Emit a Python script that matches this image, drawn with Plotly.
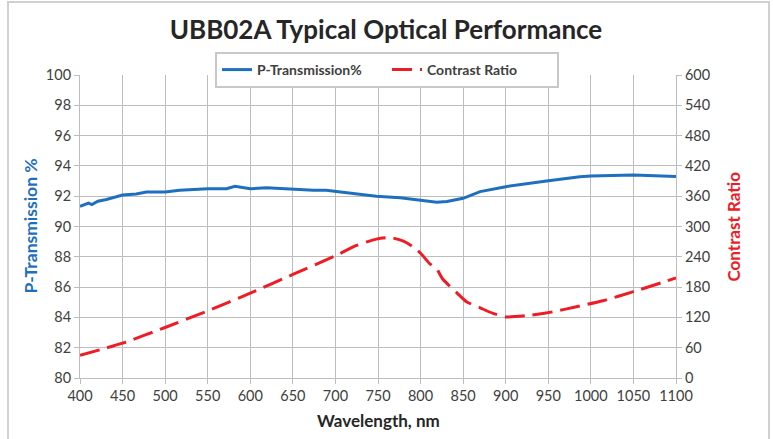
import plotly.graph_objects as go

# Wavelength grid for transmission (nm) and P-Transmission (%)
wl_t = [400, 405, 410, 414, 421, 431, 450, 466, 478, 500, 517, 550, 572, 582, 600,
        619, 650, 674, 689, 700, 725, 748, 776, 796, 819, 831, 850, 870, 900, 948,
        987, 1000, 1050, 1100]
p_trans = [91.33, 91.44, 91.55, 91.45, 91.67, 91.78, 92.08, 92.15, 92.27, 92.27, 92.4,
           92.5, 92.5, 92.66, 92.49, 92.55, 92.45, 92.4, 92.4, 92.33, 92.18, 92.0,
           91.9, 91.78, 91.6, 91.65, 91.86, 92.3, 92.63, 93.0, 93.29, 93.33, 93.4, 93.3]

# Wavelength grid for contrast ratio (nm) and contrast ratio values
wl_c = [400, 450, 500, 550, 600, 650, 700, 724, 748, 765, 780, 790, 800, 811, 819,
        826, 843, 854, 870, 885, 901, 928, 955, 983, 1014, 1050, 1100]
contrast = [45, 69, 100, 133, 168, 205, 242, 262, 275, 278, 271, 261, 247, 226, 216,
            196, 168, 151, 139, 128, 121, 124, 131, 141, 153, 171, 198]

x_ticks = list(range(400, 1101, 50))
y1_ticks = list(range(80, 101, 2))
y2_ticks = list(range(0, 601, 60))

FONT = "Lato"
BLUE = "#1F6FBF"
RED = "#EE1C25"
GRID = "#BDBDBD"
TXT = "#404040"

fig = go.Figure()
fig.add_trace(go.Scatter(x=wl_t, y=p_trans, name="P-Transmission%", mode="lines",
                         line=dict(color=BLUE, width=3), yaxis="y"))
fig.add_trace(go.Scatter(x=wl_c, y=contrast, name="Contrast Ratio", mode="lines",
                         line=dict(color=RED, width=3, dash="20px,8px", shape="spline",
                                   smoothing=0.6), yaxis="y2"))

L, R, T, B = 80, 773 - 676, 75, 439 - 378
W, H = 773, 439
pw, ph = W - L - R, H - T - B

def px(x):
    return (x - L) / pw

def py(y):
    return (H - B - y) / ph

axis_common = dict(showline=True, linecolor=GRID, linewidth=1, ticks="outside",
                   ticklen=5, tickcolor=GRID, zeroline=False, automargin=False,
                   tickfont=dict(family=FONT, size=14.5, color=TXT))

fig.update_layout(
    width=W, height=H, autosize=False,
    margin=dict(l=L, r=R, t=T, b=B, pad=0),
    paper_bgcolor="white", plot_bgcolor="white",
    font=dict(family=FONT, color=TXT, size=14),
    title=dict(text="UBB02A Typical Optical Performance", x=386 / W, xanchor="center",
               y=1 - 30 / H, yanchor="middle",
               font=dict(family=FONT, size=26, weight="bold", color="#262626")),
    xaxis=dict(range=[400, 1100], tickvals=x_ticks, showgrid=True, gridcolor=GRID,
               gridwidth=1, **axis_common),
    yaxis=dict(range=[80, 100], tickvals=y1_ticks, showgrid=True, gridcolor=GRID,
               gridwidth=1, **axis_common),
    yaxis2=dict(range=[0, 600], tickvals=y2_ticks, overlaying="y", side="right",
                showgrid=False, **axis_common),
    legend=dict(orientation="h", x=px(387), xanchor="center", y=py(52), yanchor="top",
                bordercolor="#C8C8C8", borderwidth=2, bgcolor="white",
                font=dict(family=FONT, size=14, weight="bold", color=TXT),
                itemwidth=30, tracegroupgap=0, entrywidth=125),
    showlegend=True,
)

fig.add_annotation(text="P-Transmission %", xref="paper", yref="paper", x=px(30), y=0.5,
                   textangle=-90, showarrow=False, xanchor="center", yanchor="middle",
                   font=dict(family=FONT, size=17.5, weight="bold", color=BLUE))
fig.add_annotation(text="Contrast Ratio", xref="paper", yref="paper", x=px(733), y=0.5,
                   textangle=-90, showarrow=False, xanchor="center", yanchor="middle",
                   font=dict(family=FONT, size=17, weight="bold", color=RED))
fig.add_annotation(text="Wavelength, nm", xref="paper", yref="paper", x=0.5, y=py(420),
                   showarrow=False, xanchor="center", yanchor="middle",
                   font=dict(family=FONT, size=17, weight="bold", color="#262626"))

# outer chart frame
fig.add_shape(type="rect", xref="paper", yref="paper", x0=px(8), x1=px(769),
              y0=py(445), y1=py(2), line=dict(color="#D0D0D0", width=2),
              fillcolor="rgba(0,0,0,0)", layer="below")

fig.write_html("out.html", config={"displayModeBar": False},
               post_script="document.body.style.margin='0';")
